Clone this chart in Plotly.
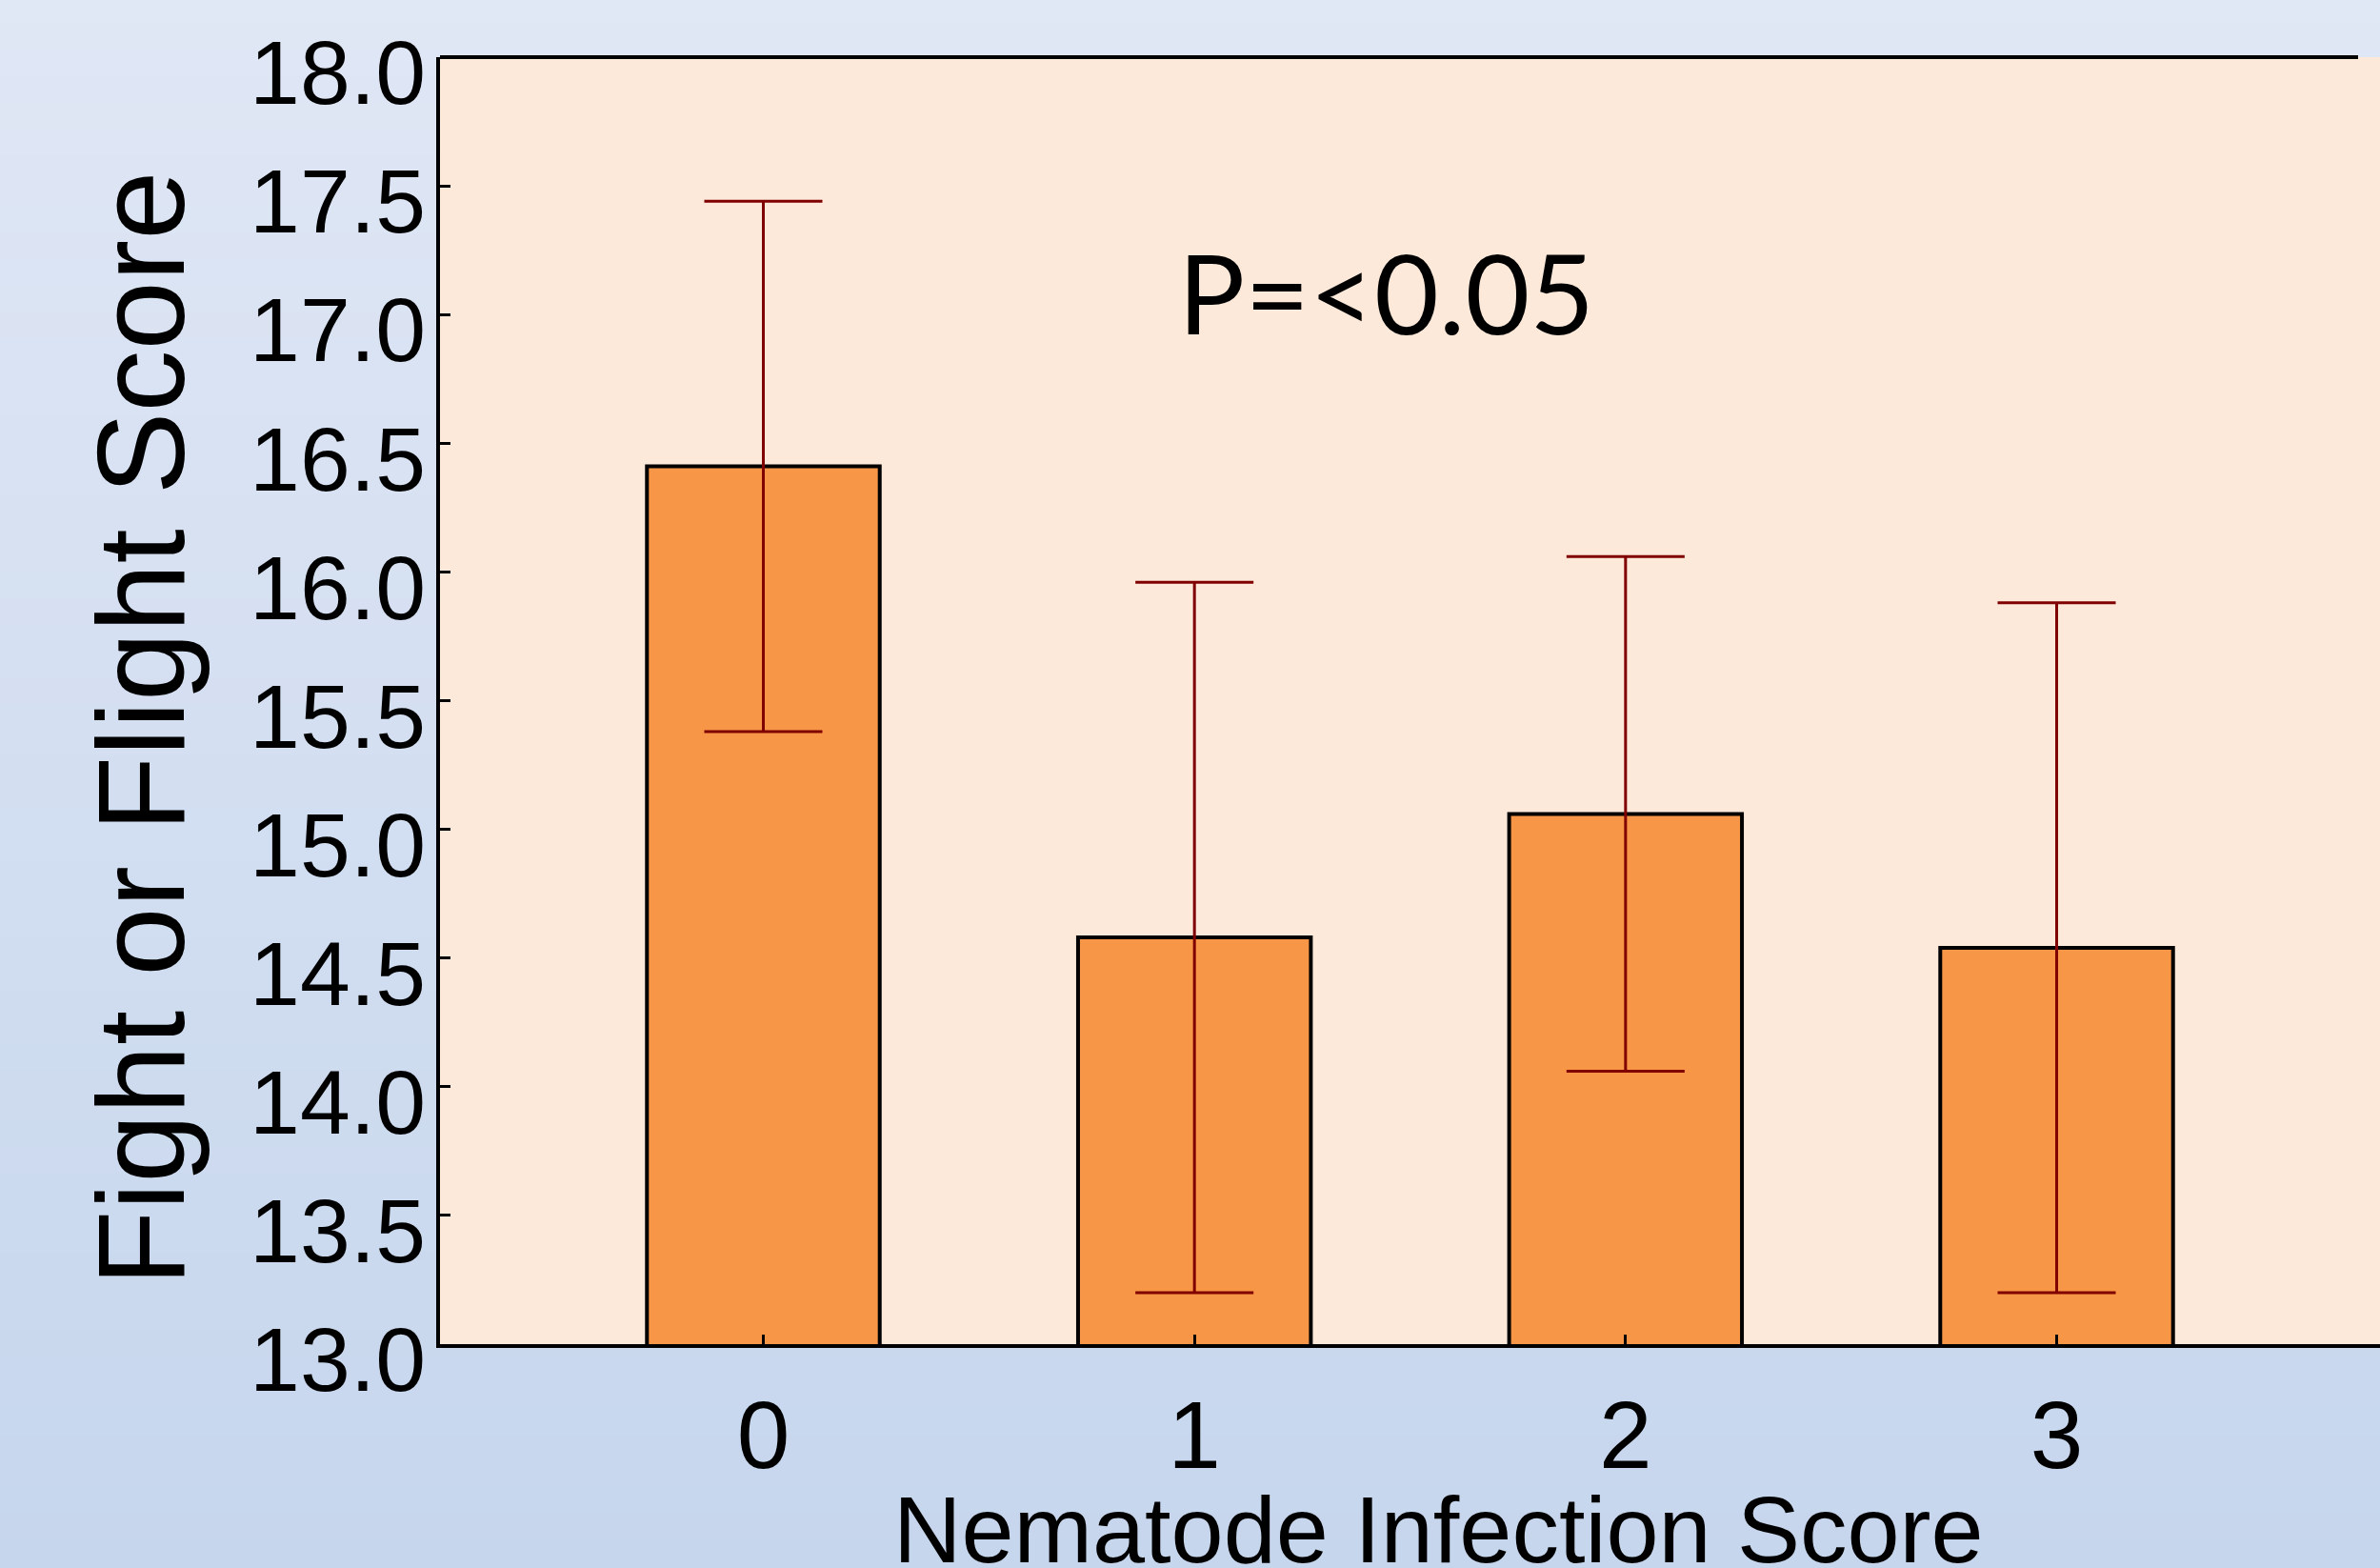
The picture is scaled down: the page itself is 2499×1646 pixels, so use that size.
import plotly.graph_objects as go

categories = [0, 1, 2, 3]
tick_labels = ["0", "1", "2", "3"]
means = [16.41, 14.58, 15.06, 14.54]
errors = [1.03, 1.38, 1.00, 1.34]
y_ticks = [13.0, 13.5, 14.0, 14.5, 15.0, 15.5, 16.0, 16.5, 17.0, 17.5, 18.0]
y_tick_labels = ["13.0", "13.5", "14.0", "14.5", "15.0", "15.5", "16.0", "16.5", "17.0", "17.5", "18.0"]

W, H = 2499, 1646
L, R, T, B = 462, 0, 60, 235
FONT = "Liberation Sans, Arial, sans-serif"

fig = go.Figure()
fig.add_trace(go.Bar(
    x=categories, y=means, width=0.54,
    marker=dict(color="#f79646", line=dict(color="black", width=4)),
    error_y=dict(type="data", array=errors, visible=True, color="#800000", thickness=3, width=62),
))

# background gradient bands (paper coords covering the full page)
shapes = []
n = 60
top_rgb = (224, 231, 245)
bot_rgb = (198, 214, 237)
plot_h = H - T - B
plot_w = W - L - R
y_bottom_paper = -B / plot_h
y_top_paper = 1 + T / plot_h
x_left_paper = -L / plot_w
for i in range(n):
    f0 = i / n
    f1 = (i + 1) / n
    c = tuple(round(top_rgb[k] + (bot_rgb[k] - top_rgb[k]) * (f0 + f1) / 2) for k in range(3))
    y1 = y_top_paper - (y_top_paper - y_bottom_paper) * f0
    y0 = y_top_paper - (y_top_paper - y_bottom_paper) * f1
    shapes.append(dict(type="rect", xref="paper", yref="paper", x0=x_left_paper, x1=1.01,
                       y0=y0 - 0.002, y1=y1 + 0.002, fillcolor="rgb(%d,%d,%d)" % c,
                       line=dict(width=0), layer="below"))
# plot area background
shapes.append(dict(type="rect", xref="paper", yref="paper", x0=0, x1=1.01, y0=0, y1=1,
                   fillcolor="#fce9da", line=dict(width=0), layer="below"))
# top border line
shapes.append(dict(type="line", xref="paper", yref="paper", x0=0, x1=(2476 - L) / plot_w,
                   y0=1, y1=1, line=dict(color="black", width=4)))

fig.update_layout(
    width=W, height=H,
    margin=dict(l=L, r=R, t=T, b=B),
    paper_bgcolor="#d3ddf0",
    plot_bgcolor="#fce9da",
    showlegend=False,
    shapes=shapes,
    font=dict(family=FONT, color="black"),
    xaxis=dict(
        range=[-0.75, 3.75], tickmode="array", tickvals=categories, ticktext=tick_labels,
        ticks="inside", ticklen=10, tickwidth=3, tickcolor="black",
        showline=True, linecolor="black", linewidth=4, showgrid=False, zeroline=False,
        tickfont=dict(size=100, family=FONT), ticklabelstandoff=6,
    ),
    yaxis=dict(
        range=[13.0, 18.0], tickmode="array", tickvals=y_ticks, ticktext=y_tick_labels,
        ticks="inside", ticklen=11, tickwidth=3, tickcolor="black",
        showline=True, linecolor="black", linewidth=4, showgrid=False, zeroline=False,
        tickfont=dict(size=95, family=FONT), ticklabelstandoff=-8, ticklabelshift=16,
        ticklabeloverflow="allow",
    ),
    annotations=[
        dict(text="P=<0.05", xref="paper", yref="paper", x=(1455 - L) / plot_w,
             y=(1411 - 306) / plot_h, xanchor="center", yanchor="middle", showarrow=False,
             font=dict(family="Lato, Open Sans, sans-serif", size=117, color="black")),
        dict(text="Fight or Flight Score", xref="paper", yref="paper", x=(148 - L) / plot_w,
             y=(1411 - 765) / plot_h, xanchor="center", yanchor="middle", textangle=-90,
             showarrow=False, font=dict(family=FONT, size=130, color="black")),
        dict(text="Nematode Infection Score", xref="paper", yref="paper", x=(1510 - L) / plot_w,
             y=(1411 - 1606) / plot_h, xanchor="center", yanchor="middle",
             showarrow=False, font=dict(family=FONT, size=99, color="black")),
    ],
)

fig.write_html("out.html", config={"displayModeBar": False},
               post_script="document.body.style.margin='0';document.body.style.overflow='hidden';")
